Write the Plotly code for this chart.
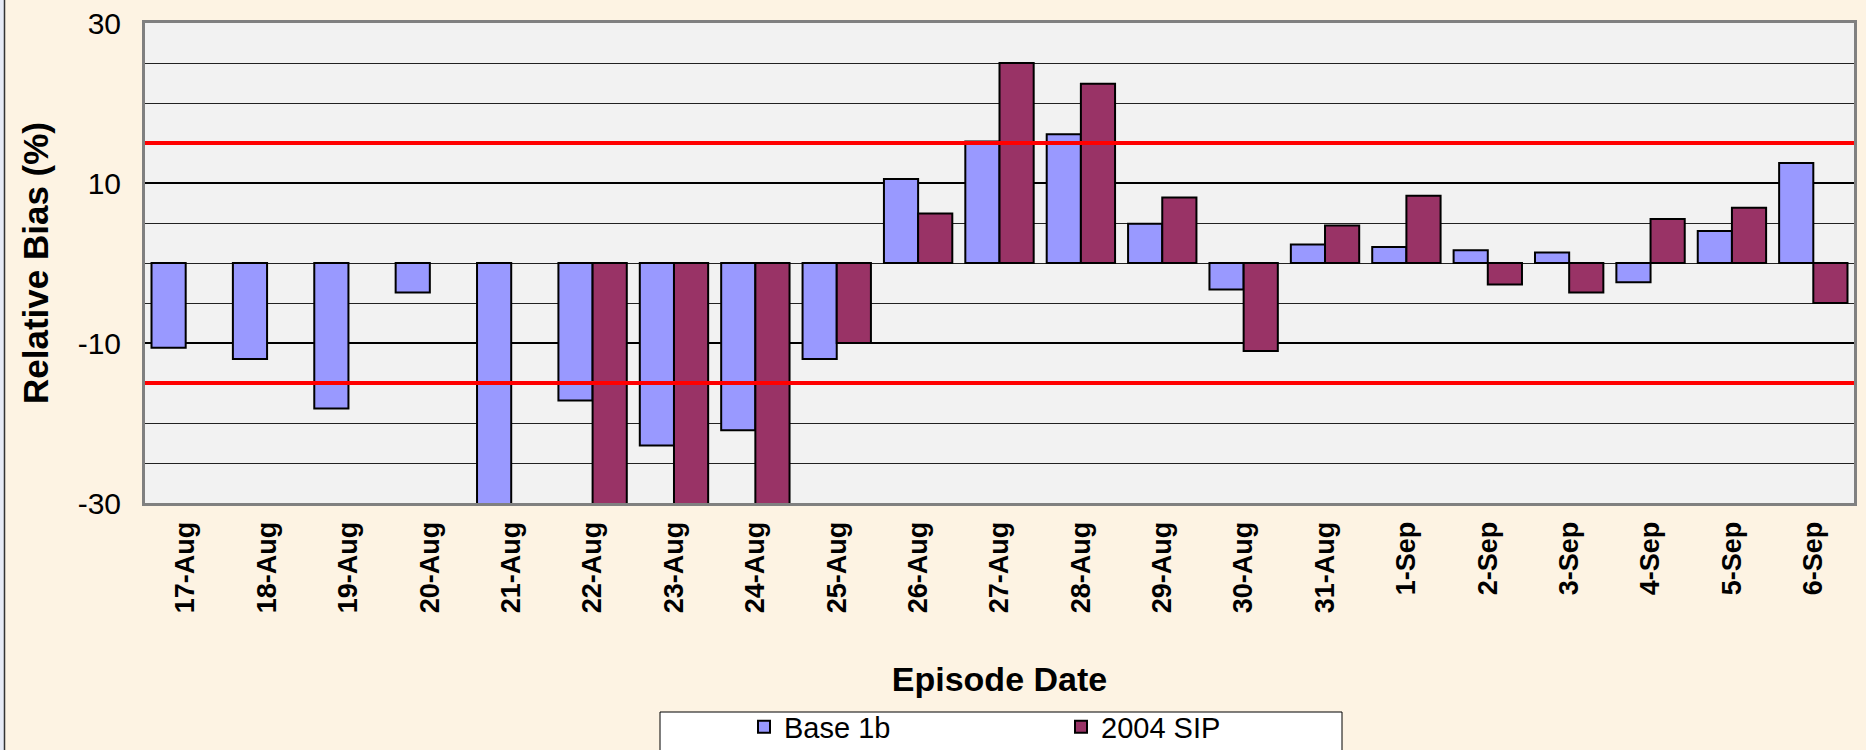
import plotly.graph_objects as go

dates = ["17-Aug", "18-Aug", "19-Aug", "20-Aug", "21-Aug", "22-Aug", "23-Aug", "24-Aug",
         "25-Aug", "26-Aug", "27-Aug", "28-Aug", "29-Aug", "30-Aug", "31-Aug",
         "1-Sep", "2-Sep", "3-Sep", "4-Sep", "5-Sep", "6-Sep"]
base_1b = [-10.6, -12.0, -18.2, -3.7, -32.0, -17.2, -22.8, -20.9,
           -12.0, 10.5, 15.2, 16.1, 4.9, -3.3, 2.3,
           2.0, 1.6, 1.3, -2.4, 4.0, 12.5]
sip_2004 = [None, None, None, None, None, -32.0, -32.0, -32.0,
            -10.0, 6.2, 25.0, 22.4, 8.2, -11.0, 4.7,
            8.4, -2.7, -3.7, 5.5, 6.9, -5.0]
bias_limits = [15, -15]
y_ticks = [-30, -10, 10, 30]

W, H = 1866, 750
L, R, T, B = 145, 12, 23, 247
pw, ph = W - L - R, H - T - B
BG = "#FDF3E3"


def px_x(p):
    return (p - L) / pw


def px_y(p):
    return (H - B - p) / ph


fig = go.Figure()
fig.add_trace(go.Bar(x=dates, y=base_1b, name="Base 1b",
                     marker=dict(color="#9999FF", line=dict(color="black", width=2))))
fig.add_trace(go.Bar(x=dates, y=sip_2004, name="2004 SIP",
                     marker=dict(color="#993366", line=dict(color="black", width=2))))

shapes = []
for v in bias_limits:
    shapes.append(dict(type="line", xref="paper", yref="y", x0=0, x1=1, y0=v, y1=v,
                       line=dict(color="#FF0000", width=4), layer="above"))
# legend box
shapes.append(dict(type="rect", xref="paper", yref="paper",
                   x0=px_x(660), x1=px_x(1342), y0=px_y(712), y1=px_y(770),
                   line=dict(color="black", width=1), fillcolor="white", layer="below"))
# left frame edge of the picture
shapes.append(dict(type="rect", xref="paper", yref="paper",
                   x0=px_x(0), x1=px_x(4), y0=px_y(0), y1=px_y(750),
                   line=dict(width=0), fillcolor="#E6EAF6", layer="below"))
shapes.append(dict(type="line", xref="paper", yref="paper",
                   x0=px_x(4.5), x1=px_x(4.5), y0=px_y(0), y1=px_y(750),
                   line=dict(color="#333333", width=1.5), layer="below"))

fig.update_layout(
    width=W, height=H,
    margin=dict(l=L, r=R, t=T, b=B, autoexpand=False),
    paper_bgcolor=BG,
    plot_bgcolor="#F2F2F2",
    barmode="group",
    bargap=0.16,
    bargroupgap=0,
    font=dict(family="Liberation Sans, Arial, sans-serif", color="black"),
    shapes=shapes,
    showlegend=True,
    legend=dict(orientation="h", x=px_x(744), xanchor="left", y=px_y(727), yanchor="middle",
                bgcolor="rgba(0,0,0,0)", font=dict(size=29),
                entrywidth=272, entrywidthmode="pixels", itemsizing="constant",
                traceorder="normal"),
    xaxis=dict(
        tickangle=-90,
        tickfont=dict(size=27, family="Liberation Sans, Arial, sans-serif", weight="bold"),
        ticklabelstandoff=5,
        showgrid=False,
        showline=True, mirror=True, linecolor="#808080", linewidth=3,
        automargin=False,
        title=dict(text="<b>Episode Date</b>", font=dict(size=34), standoff=55),
    ),
    yaxis=dict(
        range=[-30, 30],
        tickvals=y_ticks,
        ticktext=[str(v) for v in y_ticks],
        tickfont=dict(size=30),
        ticklabelstandoff=15,
        showgrid=True, gridcolor="black", gridwidth=2,
        minor=dict(dtick=5, tick0=-30, showgrid=True, gridcolor="#222222", gridwidth=1.3),
        zeroline=False,
        showline=True, mirror=True, linecolor="#808080", linewidth=3,
        automargin=False,
        title=dict(text="<b>Relative Bias (%)</b>", font=dict(size=35), standoff=19),
    ),
)

fig.write_html(
    "out.html",
    config={"displayModeBar": False},
    post_script="document.body.style.margin='0px';document.body.style.background='%s';" % BG,
)
